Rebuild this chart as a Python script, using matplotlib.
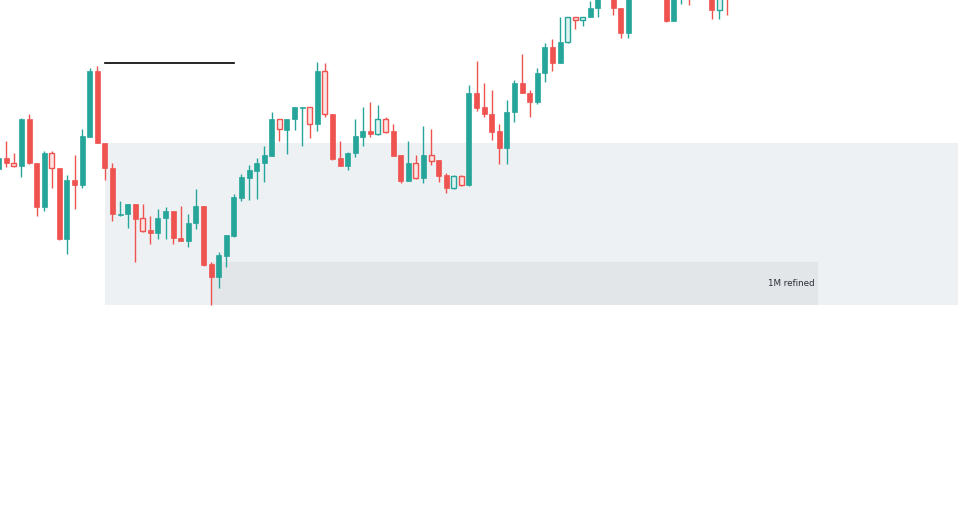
import matplotlib
matplotlib.use("Agg")
import matplotlib.pyplot as plt
from matplotlib.patches import Rectangle

# OHLC (arbitrary price units)
opens = [331, 342, 337, 334, 381, 337, 293, 347, 332, 261, 320, 315, 363, 429, 357, 332,
         285, 286, 296, 282, 270, 267, 282, 289, 262, 259, 277, 294, 236, 223, 244, 264,
         302, 322, 329, 337, 344, 381, 370, 381, 392, 393, 376, 429, 386, 342, 334, 347,
         363, 369, 366, 381, 369, 345, 319, 337, 322, 345, 340, 325, 312, 324, 315, 407,
         393, 386, 369, 352, 388, 417, 407, 398, 427, 453, 437, 458, 483, 480, 483, 492,
         530, 510, 492, 467, 515, 540, 555, 525, 520, 479, 505, 525, 505, 515, 515, 490, 520]
highs = [345, 359, 347, 382, 386, 337, 349, 349, 332, 325, 345, 371, 432, 434, 357, 337,
         299, 296, 296, 296, 284, 291, 293, 289, 294, 286, 311, 294, 238, 248, 265, 306,
         326, 335, 342, 354, 388, 381, 381, 393, 393, 393, 438, 437, 386, 359, 348, 381,
         393, 398, 395, 383, 376, 345, 359, 345, 374, 371, 340, 327, 325, 325, 415, 439,
         417, 410, 376, 400, 420, 446, 410, 432, 457, 461, 483, 483, 483, 483, 499, 510,
         535, 515, 492, 520, 545, 560, 560, 530, 525, 530, 530, 530, 520, 518, 520, 512, 525]
lows = [328, 333, 333, 323, 336, 284, 289, 312, 260, 246, 291, 312, 363, 357, 320, 279,
        284, 272, 238, 268, 256, 261, 261, 256, 259, 253, 271, 234, 195, 212, 233, 263,
        299, 300, 301, 318, 344, 359, 346, 370, 354, 362, 369, 383, 340, 334, 330, 343,
        354, 363, 365, 367, 344, 317, 319, 321, 317, 335, 318, 307, 311, 314, 314, 389,
        383, 360, 336, 336, 378, 407, 383, 396, 418, 429, 437, 457, 471, 474, 483, 483,
        506, 485, 462, 462, 510, 530, 520, 505, 478, 479, 496, 495, 502, 503, 481, 481, 485]
closes = [342, 337, 334, 381, 337, 293, 347, 332, 261, 320, 315, 364, 429, 357, 332, 286,
          286, 296, 281, 269, 267, 282, 289, 262, 259, 277, 294, 235, 223, 245, 265, 303,
          323, 330, 337, 345, 381, 371, 381, 393, 393, 376, 429, 386, 341, 334, 347, 364,
          369, 366, 381, 368, 344, 319, 337, 322, 345, 339, 324, 312, 324, 315, 407, 392,
          386, 368, 352, 388, 417, 407, 398, 427, 453, 437, 458, 483, 480, 483, 492, 505,
          512, 492, 467, 515, 540, 555, 525, 520, 479, 520, 525, 505, 515, 508, 490, 505, 503]
hollow = [2, 7, 19, 37, 41, 43, 50, 51, 55, 57, 60, 61, 75, 76, 77, 95]

# zones
zone_start, zone_low, zone_high = 14, 195, 357
refined_start, refined_end, refined_low, refined_high = 28, 108, 195, 238
refined_label = "1M refined"
level_start, level_end, level_price = 14, 31, 437

UP = "#26a69a"
DOWN = "#ef5350"

fig = plt.figure(figsize=(9.58, 5.09), dpi=100)
ax = fig.add_axes([0, 0, 1, 1])
ax.set_xlim(0.171, 126.47)
ax.set_ylim(-9, 500)
ax.axis("off")

ax.add_patch(Rectangle((zone_start, zone_low), 200, zone_high - zone_low,
                       facecolor="#eef1f4", edgecolor="none", zorder=0))
ax.add_patch(Rectangle((refined_start, refined_low), refined_end - refined_start,
                       refined_high - refined_low,
                       facecolor="#e2e6e9", edgecolor="none", zorder=0.5))
ax.text(refined_end - 0.4, (refined_low + refined_high) / 2, refined_label,
        ha="right", va="center", fontsize=6.3, color="#2a2e39", zorder=1)

ax.plot([level_start, level_end], [level_price, level_price], color="black", lw=1.2, zorder=3)

w = 0.66
for i in range(len(opens)):
    o, h, l, c = opens[i], highs[i], lows[i], closes[i]
    col = UP if c >= o else DOWN
    lo_b, hi_b = min(o, c), max(o, c)
    if hi_b - lo_b < 1:
        hi_b = lo_b + 1
    ax.vlines(i, l, h, color=col, lw=1, zorder=2)
    if i in hollow:
        fc = "#dff3f1" if col == UP else "#fde4e4"
        ax.add_patch(Rectangle((i - w / 2, lo_b), w, hi_b - lo_b,
                               facecolor=fc, edgecolor=col, lw=1, zorder=2.5))
    else:
        ax.add_patch(Rectangle((i - w / 2, lo_b), w, hi_b - lo_b,
                               facecolor=col, edgecolor=col, lw=0.5, zorder=2.5))

fig.savefig("out.png", dpi=100, facecolor="white")
